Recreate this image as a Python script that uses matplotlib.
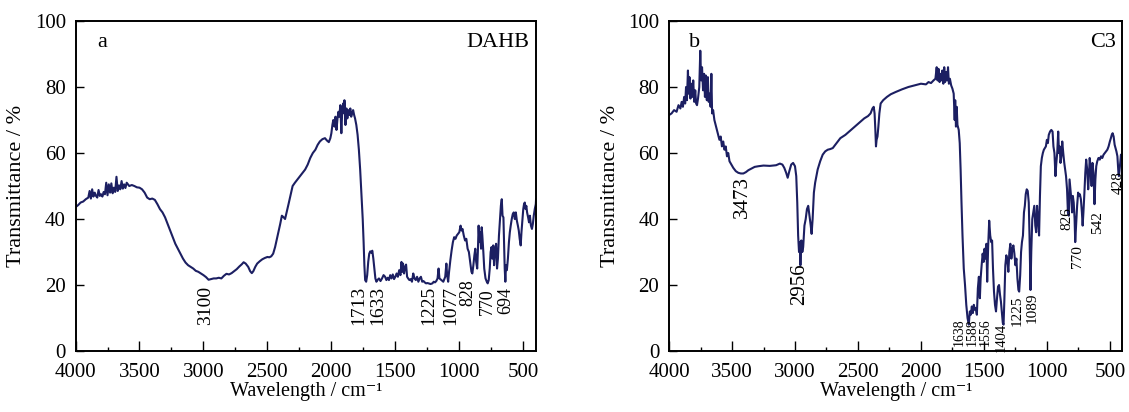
import matplotlib
matplotlib.use("Agg")
import matplotlib.pyplot as plt
from matplotlib.ticker import MultipleLocator

plt.rcParams['font.family'] = ['Liberation Serif', 'DejaVu Serif']

LINE_COLOR = '#1c1f62'

# ---- panel a: DAHB ----
wn_a = [4000, 3980, 3960, 3940, 3920, 3900, 3890, 3880, 3870, 3860, 3850, 3840, 3830, 3820,
        3810, 3800, 3790, 3780, 3770, 3760, 3750, 3740, 3730, 3720, 3710, 3700, 3690, 3680,
        3670, 3660, 3650, 3640, 3630, 3620, 3610, 3600, 3580, 3560, 3540, 3520, 3500,
        3480, 3460, 3440, 3420, 3400, 3380, 3360, 3340, 3320, 3300, 3280, 3260, 3240, 3220,
        3200, 3180, 3160, 3140, 3120, 3100, 3080, 3060, 3040, 3020, 3000, 2980, 2960, 2940,
        2920, 2900, 2880, 2860, 2840, 2820, 2800, 2780, 2760, 2740, 2720, 2700, 2686, 2670,
        2650, 2635, 2622, 2610, 2595, 2580, 2560, 2540, 2520, 2500, 2485, 2470, 2455, 2440,
        2420, 2400, 2387, 2375, 2362, 2350, 2335, 2318, 2303, 2285, 2265, 2245, 2225, 2205,
        2185, 2165, 2145, 2125, 2107, 2090, 2070, 2050, 2035, 2020, 2008, 2000, 1992, 1985,
        1975, 1968, 1960, 1952, 1945, 1938, 1930, 1922, 1915, 1908, 1900, 1898, 1890, 1882,
        1875, 1868, 1860, 1852, 1845, 1838, 1830, 1822, 1815, 1805, 1795, 1785, 1775, 1765,
        1755, 1748, 1742, 1736, 1728, 1720, 1712, 1704, 1696, 1688, 1680, 1672, 1664, 1656,
        1648, 1640, 1628, 1616, 1604, 1592, 1580, 1570, 1560, 1550, 1540, 1530, 1520, 1510,
        1500, 1490, 1480, 1470, 1460, 1452, 1446, 1440, 1432, 1424, 1416, 1408, 1400, 1390,
        1380, 1370, 1360, 1350, 1340, 1330, 1320, 1310, 1300, 1290, 1280, 1270, 1260, 1250,
        1240, 1225, 1210, 1200, 1190, 1180, 1170, 1162, 1155, 1140, 1125, 1110, 1101, 1095,
        1087, 1080, 1070, 1060, 1050, 1040, 1030, 1020, 1010, 1000, 990, 982, 975, 965, 955,
        945, 935, 925, 915, 905, 898, 890, 882, 875, 868, 860, 855, 849, 843, 836, 830, 825,
        820, 812, 805, 795, 785, 778, 770, 762, 755, 748, 742, 735, 728, 720, 712, 705, 698,
        690, 682, 675, 668, 662, 655, 650, 645, 640, 635, 628, 620, 612, 605, 598, 590, 582,
        574, 566, 558, 550, 542, 535, 528, 520, 514, 506, 500, 494, 488, 482, 476, 470, 462,
        455, 448, 440, 432, 425, 418, 410, 402, 400]
tr_a = [43.6, 44.2, 45.0, 45.3, 46.0, 46.5, 48.5, 46.2, 49.0, 46.8, 48.0, 47.0, 46.5, 48.8,
        47.0, 47.5, 46.8, 48.2, 47.5, 51.0, 47.2, 50.5, 48.0, 50.8, 47.8, 49.5, 48.2, 52.8,
        48.5, 50.2, 49.0, 51.5, 49.2, 50.5, 49.4, 51.0, 50.0, 50.3, 50.0, 49.6, 49.5,
        49.0, 48.0, 46.5, 46.0, 46.2, 45.8, 44.5, 43.0, 42.0, 40.5, 38.5, 36.5, 34.5, 32.5,
        31.0, 29.5, 28.0, 26.8, 26.0, 25.5, 25.0, 24.3, 24.0, 23.5, 23.0, 22.4, 21.6, 21.8,
        22.0, 22.0, 22.2, 22.0, 22.8, 23.4, 23.2, 23.6, 24.2, 24.8, 25.6, 26.3, 26.9, 26.5,
        25.5, 24.2, 23.6, 24.2, 25.5, 26.5, 27.2, 27.8, 28.2, 28.5, 28.4, 28.7, 29.5, 31.5,
        35.0, 38.5, 41.0, 40.6, 40.0, 42.0, 44.5, 47.5, 50.0, 51.0, 52.0, 53.0, 54.0, 55.0,
        56.5, 58.5, 60.0, 61.0, 62.5, 63.5, 64.2, 64.5, 63.8, 63.3, 64.5, 66.0, 68.5, 70.0,
        68.0, 71.0, 67.0, 70.5, 72.5, 71.0, 74.5, 66.0, 73.0, 75.0, 72.0, 76.0, 68.5, 73.5,
        70.5, 73.0, 71.5, 73.5, 71.0, 72.0, 73.0, 71.5, 70.5, 68.5, 65.5, 61.0, 55.0, 47.5,
        40.0, 33.0, 26.0, 21.5, 21.0, 23.0, 27.0, 29.5, 30.2, 29.8, 30.4, 28.0, 25.0, 22.0,
        21.0, 21.5, 22.0, 21.2, 22.0, 23.0, 22.5, 21.5, 22.2, 21.5, 23.0, 22.0, 23.2, 21.8,
        22.5, 23.5, 22.5, 24.5, 23.0, 27.0, 24.0, 26.5, 23.5, 25.5, 26.2, 22.5, 22.0, 21.5,
        21.8, 21.0, 23.5, 22.0, 21.5, 22.5, 21.0, 22.0, 22.5, 21.0, 21.2, 20.8, 20.5, 20.6,
        20.5, 20.3, 20.5, 21.0, 20.8, 21.2, 22.0, 25.0, 22.0, 21.5, 21.0, 22.5, 26.5, 23.0,
        21.0, 24.0, 27.5, 30.5, 33.0, 34.5, 34.0, 35.0, 35.5, 36.0, 38.0, 36.5, 37.0, 35.0,
        33.5, 34.0, 31.0, 30.0, 27.0, 24.0, 23.5, 26.0, 29.0, 31.0, 27.0, 25.0, 30.0, 38.0,
        33.0, 36.0, 31.0, 37.5, 35.0, 30.0, 25.0, 22.0, 21.0, 20.5, 21.5, 25.0, 30.0, 31.5,
        28.0, 32.0, 26.0, 31.0, 32.5, 25.0, 28.0, 35.0, 40.0, 44.0, 46.0, 41.0, 40.5, 33.0,
        25.0, 21.0, 26.0, 24.5, 28.0, 33.0, 36.0, 38.0, 40.0, 41.5, 42.0, 40.0, 42.0, 39.5,
        38.0, 36.5, 34.0, 32.0, 36.0, 40.0, 43.0, 44.5, 45.0, 43.0, 44.0, 42.0, 40.5, 39.0,
        41.0, 38.0, 37.0, 38.5, 41.0, 43.0, 44.5, 46.0]

# peak labels: (text, wavenumber, top of text in %T, fontsize)
peaks_a = [("3100", 2985, 19.8, 14), ("1713", 1790, 19.8, 14), ("1633", 1640, 19.8, 14),
           ("1225", 1240, 19.8, 14), ("1077", 1065, 19.8, 14), ("828", 930, 21.8, 13),
           ("770", 782, 19.0, 13), ("694", 640, 19.5, 13)]

# ---- panel b: C3 ----
wn_b = [4000, 3980, 3960, 3940, 3925, 3910, 3900, 3890, 3880, 3872, 3865, 3858, 3850, 3845,
        3838, 3830, 3822, 3815, 3808, 3800, 3792, 3785, 3778, 3770, 3760, 3752, 3745, 3738,
        3730, 3722, 3715, 3708, 3700, 3692, 3685, 3678, 3670, 3664, 3658, 3650, 3640, 3630,
        3620, 3610, 3600, 3590, 3580, 3570, 3560, 3550, 3540, 3530, 3520, 3505, 3490, 3470,
        3450, 3430, 3410, 3390, 3370, 3350, 3320, 3290, 3250, 3200, 3150, 3120, 3100, 3085,
        3070, 3058, 3045, 3030, 3015, 3000, 2990, 2982, 2975, 2968, 2962, 2957, 2950, 2942,
        2935, 2925, 2915, 2905, 2895, 2885, 2875, 2868, 2860, 2850, 2840, 2830, 2820, 2800,
        2780, 2760, 2740, 2720, 2700, 2680, 2660, 2640, 2620, 2600, 2570, 2540, 2510, 2480,
        2450, 2420, 2400, 2385, 2375, 2368, 2362, 2357, 2352, 2345, 2338, 2330, 2320, 2300,
        2270, 2240, 2200, 2150, 2100, 2050, 2000, 1960, 1940, 1920, 1900, 1885, 1875, 1868,
        1860, 1852, 1845, 1838, 1830, 1822, 1815, 1808, 1800, 1792, 1785, 1778, 1770, 1760,
        1750, 1740, 1732, 1728, 1722, 1716, 1710, 1700, 1692, 1685, 1678, 1670, 1660, 1650,
        1640, 1630, 1620, 1612, 1604, 1596, 1588, 1580, 1572, 1565, 1556, 1548, 1540, 1532,
        1526, 1518, 1510, 1502, 1495, 1488, 1480, 1474, 1466, 1458, 1450, 1442, 1435, 1428,
        1420, 1412, 1404, 1396, 1388, 1380, 1372, 1365, 1358, 1350, 1344, 1338, 1330, 1322,
        1314, 1306, 1298, 1290, 1282, 1274, 1266, 1258, 1250, 1242, 1234, 1226, 1220, 1212,
        1205, 1198, 1190, 1182, 1175, 1168, 1160, 1152, 1144, 1138, 1130, 1124, 1116, 1108,
        1100, 1092, 1085, 1078, 1070, 1062, 1055, 1048, 1040, 1032, 1024, 1016, 1008, 1000,
        992, 985, 975, 965, 955, 948, 940, 932, 925, 918, 910, 904, 898, 892, 885, 878, 870,
        862, 855, 848, 840, 833, 826, 820, 813, 806, 800, 794, 787, 780, 775, 768, 760, 752,
        745, 738, 730, 722, 716, 710, 702, 695, 688, 680, 672, 666, 660, 652, 645, 638, 630,
        622, 615, 608, 600, 590, 580, 570, 560, 550, 540, 530, 520, 510, 500, 492, 485, 478,
        470, 462, 455, 448, 440, 432, 428, 420, 412, 405, 400]
tr_b = [71.5, 72.0, 73.0, 72.5, 74.5, 73.5, 75.5, 74.0, 77.0, 75.0, 80.0, 76.0, 85.0, 78.0,
        83.0, 76.5, 81.0, 77.0, 82.0, 75.5, 79.0, 75.0, 74.5, 76.5, 80.0, 91.0, 82.0, 86.0,
        79.0, 84.0, 77.0, 83.5, 76.0, 83.0, 75.5, 78.0, 74.0, 84.0, 72.0, 73.0, 70.0, 68.5,
        67.0, 65.5, 64.0, 65.0, 62.0, 63.5, 61.0, 62.0, 59.0, 60.0, 57.5, 56.5, 55.5, 54.5,
        54.0, 53.8, 53.8, 54.2, 54.8, 55.2, 55.8, 56.0, 56.2, 56.1, 56.3, 56.8, 56.5, 55.5,
        54.0, 52.5, 54.5, 56.5, 57.0, 56.0, 53.0, 45.0, 35.0, 30.0, 33.0, 26.0, 33.5, 30.0,
        31.5, 38.0, 40.0, 43.0, 44.0, 41.0, 38.0, 35.5, 40.0, 48.0, 51.0, 53.0, 55.0, 57.5,
        59.5, 60.5, 61.0, 61.2, 61.5, 62.5, 63.5, 64.5, 65.0, 65.5, 66.5, 67.5, 68.5, 69.5,
        70.5, 71.2, 72.0, 73.5, 74.0, 72.0, 67.0, 62.0, 64.0, 65.0, 68.0, 72.0, 75.0, 76.0,
        77.0, 77.8, 78.5, 79.3, 80.0, 80.5, 81.0, 80.8, 81.5, 81.2, 82.0, 82.5, 86.0, 82.0,
        85.5, 81.5, 84.0, 82.0, 85.0, 81.0, 86.0, 81.5, 84.5, 82.0, 86.0, 81.0, 82.5, 80.5,
        79.5, 78.0, 70.0, 76.0, 68.0, 74.0, 68.5, 67.0, 63.0, 55.0, 45.0, 35.0, 25.0, 20.0,
        14.0, 10.0, 8.0, 12.0, 11.0, 13.5, 11.5, 14.0, 12.5, 13.0, 11.0, 19.0, 22.5, 16.0,
        22.0, 26.0, 29.5, 27.0, 31.0, 28.0, 32.5, 21.0, 32.0, 39.5, 35.0, 33.0, 33.5, 25.0,
        18.0, 14.0, 12.0, 16.0, 19.5, 20.0, 17.0, 15.0, 12.0, 8.5, 8.0, 15.0, 26.0, 29.0,
        27.5, 24.0, 30.0, 32.5, 28.0, 31.0, 32.0, 29.5, 26.0, 28.0, 22.0, 18.5, 18.0, 23.0,
        30.0, 33.0, 35.0, 42.0, 44.0, 47.5, 49.0, 48.5, 45.0, 35.0, 18.5, 30.0, 40.0, 42.0,
        44.0, 38.0, 36.0, 44.0, 40.0, 35.0, 47.0, 56.0, 58.5, 60.0, 61.0, 61.5, 62.0, 64.0,
        63.0, 65.5, 66.5, 67.0, 66.5, 62.0, 60.0, 53.0, 57.0, 60.0, 66.5, 60.0, 62.0, 57.0,
        59.0, 63.5, 60.0, 57.0, 55.0, 53.0, 49.0, 42.0, 41.0, 52.0, 49.0, 46.0, 42.0, 47.0,
        45.0, 40.0, 33.0, 38.0, 44.0, 48.0, 47.0, 47.5, 46.0, 42.0, 38.0, 42.0, 48.0, 54.0,
        58.0, 55.0, 49.0, 53.0, 58.5, 55.0, 50.0, 57.0, 54.0, 44.5, 52.0, 56.0, 57.5, 58.5,
        58.0, 59.0, 58.5, 59.5, 60.0, 60.5, 61.0, 62.0, 63.5, 64.5, 65.5, 66.0, 65.0, 62.5,
        61.5, 60.5, 59.0, 54.0, 53.0, 56.0, 59.5, 58.0, 59.0]

peaks_b = [("3473", 3420, 53.0, 15), ("2956", 2962, 26.5, 15), ("1638", 1695, 9.8, 10),
           ("1588", 1590, 9.8, 10), ("1556", 1490, 9.8, 10), ("1404", 1360, 8.5, 10.5),
           ("1225", 1232, 16.8, 11), ("1089", 1118, 17.8, 11), ("826", 842, 43.5, 11),
           ("770", 758, 32.0, 11), ("542", 600, 42.5, 11), ("428", 435, 54.5, 11)]


def draw_panel(ax, wn, tr, peaks, letter, letter_x, name):
    ax.plot(wn, tr, color=LINE_COLOR, lw=1.5)
    ax.set_xlim(4000, 400)
    ax.set_ylim(0, 100)
    ax.xaxis.set_major_locator(MultipleLocator(500))
    ax.xaxis.set_minor_locator(MultipleLocator(250))
    ax.yaxis.set_major_locator(MultipleLocator(20))
    ax.tick_params(axis='both', which='both', direction='in', top=False, right=False,
                   labelsize=15, width=1.0)
    ax.tick_params(axis='x', which='major', length=7, pad=8.7)
    ax.tick_params(axis='x', which='minor', length=3)
    ax.tick_params(axis='y', which='major', length=6, pad=7)
    for sp in ax.spines.values():
        sp.set_linewidth(1.4)
    ax.set_xlabel('Wavelength / cm\u207b\u00b9', fontsize=14.5, labelpad=0)
    ax.set_ylabel('Transmittance / %', fontsize=16, labelpad=6)
    ax.text(letter_x, 93.5, letter, fontsize=16, ha='center', va='center')
    ax.text(450, 93.5, name, fontsize=16, ha='right', va='center')
    for label, x, y, fs in peaks:
        ax.text(x, y, label, rotation=90, ha='center', va='top', fontsize=fs)


fig = plt.figure(figsize=(11.29, 4.12), dpi=100)
ax_a = fig.add_axes([0.0669, 0.148, 0.4079, 0.801])
ax_b = fig.add_axes([0.5926, 0.148, 0.4016, 0.801])

draw_panel(ax_a, wn_a, tr_a, peaks_a, 'a', 3790, 'DAHB')
draw_panel(ax_b, wn_b, tr_b, peaks_b, 'b', 3800, 'C3')

fig.savefig('out.png', dpi=100)
